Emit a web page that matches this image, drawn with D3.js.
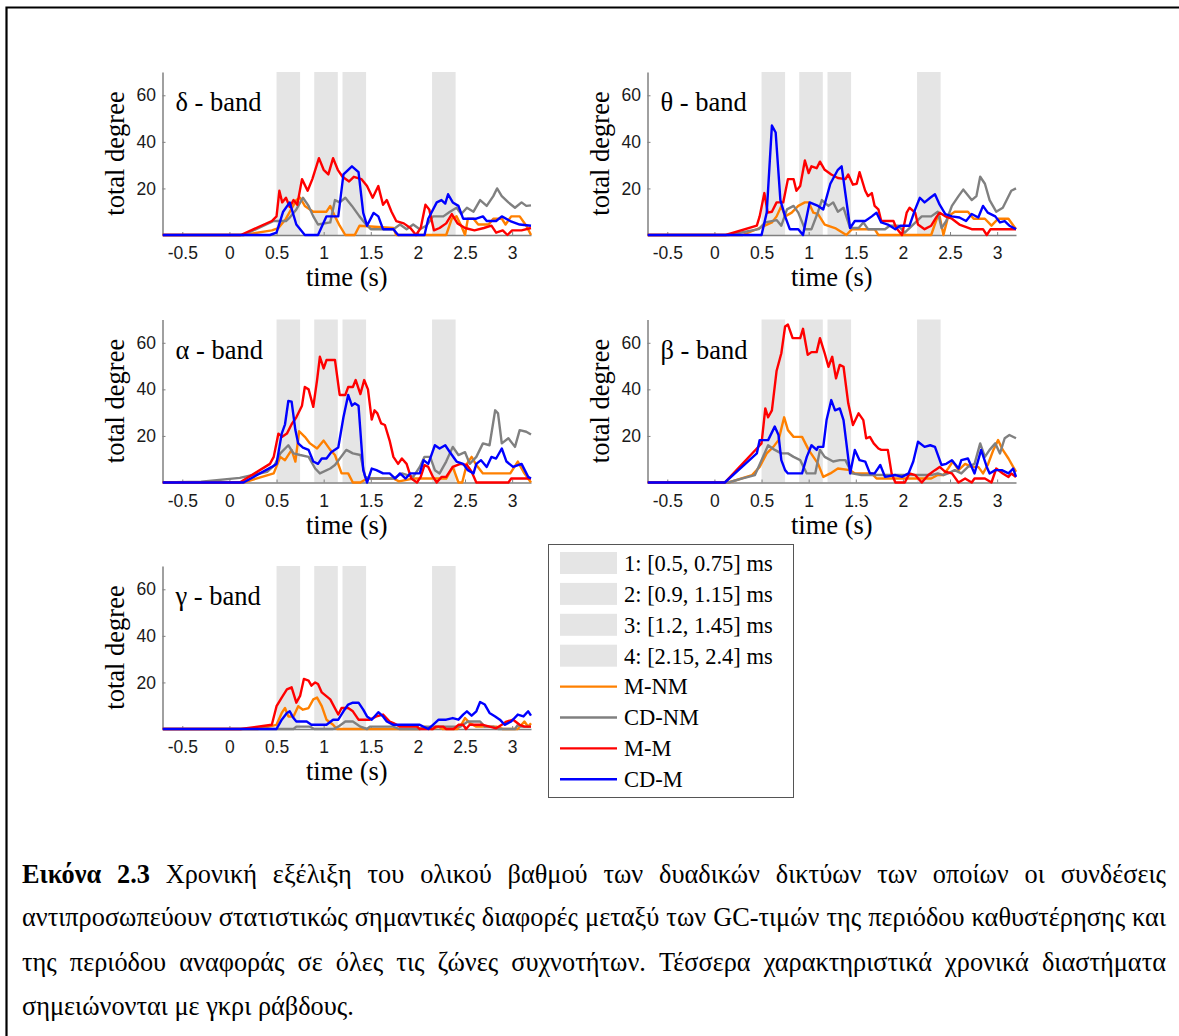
<!DOCTYPE html>
<html>
<head>
<meta charset="utf-8">
<script src="https://cdn.jsdelivr.net/npm/d3@7"></script>
<style>
  body { margin: 0; background: #fff; }
  svg { display: block; }
</style>
</head>
<body>
<svg id="fig" width="1179" height="1036"></svg>
<script>
// ---- labels, categories and ticks ----
const seriesNames = ["M-NM", "CD-NM", "M-M", "CD-M"];
const seriesColors = ["#ff8000", "#808080", "#ff0000", "#0000ff"];
const bandNames = ["δ - band", "θ - band", "α - band", "β - band", "γ - band"];
const intervals = [[0.5, 0.75], [0.9, 1.15], [1.2, 1.45], [2.15, 2.4]];
const intervalLabels = ["1: [0.5, 0.75] ms", "2: [0.9, 1.15] ms", "3: [1.2, 1.45] ms", "4: [2.15, 2.4] ms"];
const xTicks = [-0.5, 0, 0.5, 1, 1.5, 2, 2.5, 3];
const yTicks = [20, 40, 60];
const timeDomain = [-0.71, 3.2];
const degreeDomain = [0, 70];

// ---- total degree over time, [time (s), degree] ----
const deltaMNM = [[-0.71,0],[0.15,0],[0.45,2],[0.52,3],[0.6,7],[0.71,15],[0.75,16],[0.8,12.5],[0.89,10],[1.03,10],[1.07,12.5],[1.12,8],[1.17,4],[1.23,0],[1.33,0],[1.38,4],[1.74,3],[1.77,0],[2.3,0],[2.36,7],[2.41,8],[2.46,4],[2.5,0],[2.53,7],[2.59,7],[2.64,4.5],[2.75,4.5],[2.8,7],[2.89,7],[2.93,4.5],[2.99,8],[3.08,8],[3.15,4],[3.2,0]];
const deltaCDNM = [[-0.71,0],[0.15,0],[0.47,6],[0.6,6],[0.64,7.5],[0.71,11],[0.78,16],[0.84,12.5],[0.89,8],[0.94,4.5],[1.07,5.4],[1.12,15],[1.17,14],[1.23,16],[1.3,12.5],[1.38,8],[1.45,4.5],[1.5,2.5],[1.74,2.5],[1.81,4.5],[1.88,2.5],[1.95,4.5],[2.02,2.5],[2.09,4],[2.16,8],[2.27,8],[2.34,10],[2.41,11.7],[2.46,9],[2.52,11.7],[2.59,10],[2.66,15],[2.73,12.5],[2.8,16.7],[2.84,20],[2.89,16.7],[2.96,14],[3.03,11.7],[3.1,14],[3.15,12.5],[3.2,12.7]];
const deltaMM = [[-0.71,0],[0.12,0],[0.45,6],[0.5,8],[0.53,19],[0.56,14],[0.6,16],[0.64,12],[0.68,15],[0.72,13],[0.77,24],[0.83,19],[0.88,24],[0.95,33],[1.0,28],[1.05,26],[1.1,33],[1.15,28],[1.2,25],[1.27,23],[1.32,25],[1.4,24],[1.46,21],[1.52,16],[1.58,21],[1.63,13],[1.67,15],[1.72,10],[1.77,6],[1.85,5],[1.92,3],[1.98,0],[2.03,3],[2.08,13],[2.12,11],[2.17,2],[2.23,3],[2.3,5],[2.36,9],[2.42,5],[2.5,3],[2.6,2],[2.7,3],[2.78,4],[2.83,1],[2.9,2],[2.95,0],[3.0,2],[3.1,2],[3.2,3]];
const deltaCDM = [[-0.71,0],[0.43,0],[0.5,1],[0.57,10],[0.64,14],[0.71,4.5],[0.8,0],[0.94,0],[1.03,8],[1.155,8],[1.21,26],[1.3,29.5],[1.37,27],[1.42,9.5],[1.46,4],[1.53,9.5],[1.58,8],[1.63,2.5],[1.74,2.5],[1.79,0],[2.07,0],[2.11,7],[2.2,14],[2.25,15],[2.29,13.5],[2.32,17.5],[2.37,14],[2.43,12.5],[2.48,7],[2.62,7],[2.69,8],[2.73,6],[2.83,6],[2.89,8],[2.98,6],[3.08,4.5],[3.2,4]];

const thetaMNM = [[-0.71,0],[0.3,0],[0.48,3],[0.61,5.4],[0.66,8],[0.71,12.5],[0.75,8],[0.82,9.6],[0.89,12.5],[0.96,14],[1.0,14],[1.05,9.6],[1.1,9],[1.17,4.5],[1.28,3],[1.4,0],[1.46,2.5],[1.7,2.5],[1.74,0],[2.3,0],[2.36,7],[2.39,8],[2.43,0],[2.48,8],[2.55,10],[2.69,10],[2.75,7],[2.87,7],[2.94,4],[3.01,7],[3.12,7],[3.2,2.5]];
const thetaCDNM = [[-0.71,0],[0.15,0],[0.47,2.5],[0.54,5.4],[0.66,6.4],[0.71,4],[0.77,11],[0.84,12.5],[0.89,9.6],[0.96,2.5],[1.03,2.5],[1.1,10],[1.14,15],[1.21,12.5],[1.26,14],[1.31,10],[1.37,11.7],[1.44,3],[1.53,3],[1.58,5.4],[1.63,2.5],[1.81,2.5],[1.86,4],[1.95,4],[2.02,1],[2.2,8],[2.3,8],[2.37,10],[2.41,3],[2.46,6],[2.52,12.5],[2.59,16.7],[2.64,19.5],[2.73,15],[2.78,16.7],[2.82,25],[2.87,22],[2.92,15],[2.99,10],[3.06,11.7],[3.15,19],[3.2,20]];
const thetaMM = [[-0.71,0],[0.12,0],[0.45,4],[0.48,8],[0.53,18],[0.565,9.6],[0.61,10],[0.66,14],[0.73,14],[0.78,24],[0.84,24],[0.87,19],[0.91,21],[0.96,32],[1.0,26.6],[1.03,29.5],[1.085,28.7],[1.12,31.5],[1.17,28],[1.24,26],[1.31,24.5],[1.39,24],[1.42,26],[1.47,21.6],[1.51,22],[1.54,27],[1.6,19],[1.63,16.7],[1.67,18],[1.7,12.5],[1.74,11],[1.77,6],[1.9,6],[1.93,3],[1.99,0],[2.04,9.6],[2.07,11.7],[2.13,9.6],[2.16,4.5],[2.23,2.5],[2.3,4],[2.36,8],[2.39,9.6],[2.45,8],[2.52,7],[2.6,4.5],[2.73,2.5],[2.85,2.5],[2.89,0],[2.93,2.5],[3.2,2.5]];
const thetaCDM = [[-0.71,0],[0.5,0],[0.555,9.6],[0.61,47],[0.65,44],[0.7,15],[0.75,8],[0.8,2.5],[0.89,2.5],[0.94,0],[1.01,14],[1.1,12.5],[1.155,11],[1.23,22],[1.31,28],[1.35,29.5],[1.44,3],[1.49,6],[1.6,6],[1.67,8],[1.72,9.6],[1.77,5.4],[1.84,4.5],[1.92,2.5],[1.97,4],[2.07,4],[2.13,11],[2.18,16],[2.23,14],[2.29,16],[2.34,17.5],[2.39,13],[2.45,9],[2.52,8],[2.6,7.5],[2.67,6],[2.73,9],[2.8,7.5],[2.85,12.5],[2.9,9.6],[2.98,8],[3.03,5.4],[3.08,6],[3.13,4],[3.2,2.5]];

const alphaMNM = [[-0.71,0],[0.15,0],[0.47,3.9],[0.54,11],[0.59,9.6],[0.66,14],[0.7,9],[0.74,22],[0.8,19.6],[0.855,16.8],[0.93,14.6],[1.0,18],[1.07,14],[1.12,11.8],[1.19,3.9],[1.26,3.9],[1.31,0],[1.39,0],[1.46,1.7],[1.74,1.7],[1.8,0.5],[1.95,1.7],[2.3,1.7],[2.37,6.7],[2.43,0],[2.47,0],[2.52,8],[2.57,11],[2.62,7.5],[2.69,3.9],[2.98,3.9],[3.06,9],[3.13,3.9],[3.2,0]];
const alphaCDNM = [[-0.71,0],[-0.3,0.3],[0.11,2],[0.4,4.6],[0.48,7.5],[0.54,12.5],[0.625,16],[0.68,12.5],[0.75,11.8],[0.84,11],[0.91,6],[0.96,3.9],[1.07,6],[1.12,7.5],[1.24,14],[1.31,12.5],[1.39,11.8],[1.44,2.4],[1.5,1.7],[1.74,1.7],[1.83,3.9],[1.95,2.4],[2.02,6.7],[2.07,11],[2.13,11],[2.18,5.3],[2.23,3.9],[2.3,9],[2.37,15.3],[2.43,11.8],[2.5,13],[2.55,8],[2.62,11],[2.69,16.8],[2.76,16],[2.82,31],[2.85,29.7],[2.89,16.8],[2.96,19],[3.03,15.3],[3.08,22.5],[3.15,21.8],[3.2,20.6]];
const alphaMM = [[-0.71,0],[0.11,0],[0.43,8],[0.47,11],[0.52,21],[0.56,19.6],[0.61,21],[0.66,25],[0.71,28],[0.77,33],[0.8,41],[0.84,40],[0.89,32.5],[0.93,44],[0.96,54],[1.0,49],[1.03,52.6],[1.12,52.6],[1.17,37.6],[1.23,37.6],[1.26,41],[1.31,41],[1.34,44],[1.39,38],[1.43,44],[1.47,40],[1.51,27],[1.54,31],[1.57,29.7],[1.61,25.4],[1.65,24.7],[1.7,18],[1.74,11],[1.79,8],[1.83,10.3],[1.88,8],[1.93,1.7],[1.99,0],[2.03,2.4],[2.07,7.5],[2.11,6.7],[2.16,2.4],[2.2,0],[2.25,2.4],[2.3,2.4],[2.37,6.7],[2.45,8],[2.52,7.5],[2.57,4.6],[2.62,0],[2.96,0],[2.99,1.7],[3.2,1.7]];
const alphaCDM = [[-0.71,0],[0.15,0],[0.45,6.7],[0.5,8],[0.555,21],[0.59,25],[0.625,35],[0.66,34.7],[0.7,22.5],[0.73,16.8],[0.78,15],[0.84,14],[0.89,9],[0.94,8],[0.98,10.3],[1.03,10.3],[1.08,13],[1.155,15],[1.21,28],[1.26,37.6],[1.3,33],[1.33,34],[1.37,33],[1.42,5.3],[1.46,0],[1.51,6],[1.56,5.3],[1.63,3.9],[1.7,3.9],[1.76,1.7],[1.81,3.9],[1.87,1.7],[1.92,3.9],[2.02,3.9],[2.06,9.6],[2.11,8],[2.18,16],[2.23,14.6],[2.29,16],[2.34,13],[2.41,9],[2.48,8],[2.53,5.3],[2.59,3.9],[2.62,8],[2.67,9.6],[2.73,6.7],[2.78,11],[2.83,10.3],[2.89,14.6],[2.94,9],[3.01,6.7],[3.1,8],[3.17,2.4],[3.2,1.7]];

const betaMNM = [[-0.71,0],[0.15,0],[0.4,3.2],[0.48,6.7],[0.555,12.5],[0.625,15.3],[0.68,18.2],[0.74,28],[0.78,22.5],[0.84,19.6],[0.93,19.6],[1.0,14],[1.05,11],[1.1,8],[1.155,2.4],[1.23,3.9],[1.31,6],[1.44,5.3],[1.49,3.9],[1.67,3.9],[1.72,1.7],[2.3,1.7],[2.37,3.2],[2.43,3.2],[2.48,6],[2.53,9],[2.59,5.3],[2.66,8],[2.73,6.7],[2.8,6.7],[2.85,3.9],[2.9,7.5],[2.96,14],[3.01,18.2],[3.06,14],[3.12,10.3],[3.17,6.7],[3.2,4.6]];
const betaCDNM = [[-0.71,0],[0.15,0],[0.29,1.7],[0.43,3.2],[0.5,9.6],[0.57,16],[0.64,14],[0.71,12.5],[0.78,12.5],[0.84,11],[0.91,9.6],[0.98,3.9],[1.07,3.9],[1.12,14],[1.17,11],[1.26,9],[1.33,9.6],[1.39,9.6],[1.46,3.9],[1.56,3.2],[1.74,3.2],[1.8,3.2],[2.3,3.2],[2.37,3.9],[2.43,3.2],[2.48,3.9],[2.55,5.3],[2.62,3.9],[2.69,6.7],[2.76,8],[2.82,16.8],[2.87,11],[2.92,14],[2.98,16.8],[3.03,12.5],[3.08,19],[3.13,20.4],[3.2,19]];
const betaMM = [[-0.71,0],[0.11,0],[0.45,14.6],[0.5,16.8],[0.54,31.8],[0.57,28],[0.61,31],[0.66,48],[0.71,55.5],[0.75,67],[0.78,67.8],[0.83,62],[0.91,62],[0.94,66],[0.99,54.8],[1.03,56],[1.085,56],[1.12,62],[1.17,55.5],[1.21,49.7],[1.25,54],[1.29,44.7],[1.33,50.5],[1.37,49.7],[1.42,34],[1.47,24.7],[1.53,29.7],[1.58,26.8],[1.61,19],[1.65,19.6],[1.69,16.8],[1.74,14.6],[1.77,14],[1.84,14],[1.88,3.9],[1.92,0],[2.02,0],[2.07,3.9],[2.13,3.2],[2.2,0],[2.27,3.2],[2.34,5.3],[2.39,6.7],[2.45,4.6],[2.52,3.9],[2.59,0],[2.66,1.7],[2.73,0],[2.76,1.7],[2.87,1.7],[2.94,0],[2.99,6],[3.06,3.9],[3.12,2.4],[3.15,3.9],[3.2,2.4]];
const betaCDM = [[-0.71,0],[0.11,0],[0.45,12.5],[0.48,18.2],[0.57,18.2],[0.64,24],[0.68,20.4],[0.71,9.6],[0.75,5.3],[0.78,3.9],[0.93,3.9],[0.98,11],[1.03,16],[1.085,14],[1.1,15.3],[1.155,15.3],[1.19,26.8],[1.24,35.4],[1.28,31],[1.33,31.8],[1.37,26.8],[1.44,3.9],[1.49,14],[1.54,9.6],[1.6,9],[1.65,3.9],[1.7,3.9],[1.76,7.5],[1.81,2.4],[1.92,3.2],[1.99,2.4],[2.06,3.9],[2.11,9],[2.16,17.5],[2.23,15.3],[2.29,16],[2.34,15.3],[2.41,7.5],[2.46,8],[2.52,9.6],[2.59,6],[2.62,9.6],[2.69,10.3],[2.76,3.9],[2.83,14],[2.89,6.7],[2.92,3.9],[2.98,5.3],[3.05,5.3],[3.12,3.9],[3.17,6],[3.2,2.4]];

const gammaMNM = [[-0.71,0],[0.3,0],[0.5,1.8],[0.555,6.9],[0.59,9],[0.625,5.4],[0.68,5.4],[0.73,9.8],[0.78,8.3],[0.84,9],[0.89,12.7],[0.93,13.5],[0.98,9.8],[1.03,4],[1.1,1.8],[1.14,0],[2.02,0],[2.07,1],[2.15,0],[2.22,1],[2.26,0],[2.42,0],[2.46,1.8],[2.5,4.7],[2.55,2.5],[2.62,1],[2.83,1],[2.9,0],[3.06,0],[3.13,3.2],[3.17,1],[3.2,2.5]];
const gammaCDNM = [[-0.71,0],[0.68,0],[0.71,1],[0.855,1],[0.9,0],[1.1,0],[1.155,1],[1.23,3.2],[1.31,3.2],[1.39,1],[1.46,0],[1.49,1],[1.74,1],[1.8,0],[2.02,0],[2.09,1],[2.45,1],[2.48,1.8],[2.53,3.2],[2.66,3.2],[2.71,1],[2.8,1],[2.85,0],[3.03,0],[3.06,1.8],[3.1,1],[3.2,1]];
const gammaMM = [[-0.71,0],[0.12,0],[0.45,1.8],[0.5,9.8],[0.555,13.5],[0.61,17],[0.66,17.9],[0.71,11.3],[0.75,14.2],[0.79,21.5],[0.84,20.8],[0.87,18.6],[0.91,20],[0.94,19.3],[0.98,15.7],[1.07,12.7],[1.155,6.2],[1.19,9],[1.26,9],[1.31,7.6],[1.37,4],[1.49,4],[1.56,5.4],[1.63,6.2],[1.7,3.2],[1.74,2.5],[1.81,1],[1.99,1],[2.02,0],[2.16,0],[2.19,1],[2.27,1],[2.3,0],[2.38,0],[2.43,1.8],[2.48,1.8],[2.51,0],[2.55,1.8],[2.69,1.8],[2.76,1],[2.83,0.3],[2.89,1.8],[2.94,3.2],[3.01,4],[3.08,1.8],[3.13,1],[3.2,1]];
const gammaCDM = [[-0.71,0],[0.5,0],[0.555,4],[0.61,6.9],[0.64,7.6],[0.68,4.7],[0.71,3.2],[0.82,3.2],[0.87,1.8],[1.03,1.8],[1.1,4],[1.155,4],[1.21,7.6],[1.26,10.5],[1.31,11.3],[1.37,11.3],[1.42,8.3],[1.46,5.4],[1.51,4],[1.54,5.4],[1.58,7.2],[1.63,5.4],[1.67,3.2],[1.74,1.8],[2.02,1.8],[2.11,0],[2.16,1.8],[2.22,4],[2.3,4],[2.37,4.7],[2.43,4],[2.48,6.2],[2.52,7.6],[2.57,5.7],[2.62,7.6],[2.66,11.6],[2.71,10.5],[2.76,6.9],[2.82,5.4],[2.87,4],[2.92,1.8],[2.99,3.2],[3.06,6.2],[3.12,5.4],[3.17,7.6],[3.2,5.7]];

const panelSeries = [
  [deltaMNM, deltaCDNM, deltaMM, deltaCDM],
  [thetaMNM, thetaCDNM, thetaMM, thetaCDM],
  [alphaMNM, alphaCDNM, alphaMM, alphaCDM],
  [betaMNM, betaCDNM, betaMM, betaCDM],
  [gammaMNM, gammaCDNM, gammaMM, gammaCDM]
];

// ---- figure text ----
const captionLines = [
  { bold: ["Εικόνα", "2.3"], text: "Χρονική εξέλιξη του ολικού βαθμού των δυαδικών δικτύων των οποίων οι συνδέσεις", justify: true },
  { bold: [], text: "αντιπροσωπεύουν στατιστικώς σημαντικές διαφορές μεταξύ των GC-τιμών της περιόδου καθυστέρησης και", justify: true },
  { bold: [], text: "της περιόδου αναφοράς σε όλες τις ζώνες συχνοτήτων. Τέσσερα χαρακτηριστικά χρονικά διαστήματα", justify: true },
  { bold: [], text: "σημειώνονται με γκρι ράβδους.", justify: false }
];

// ---- layout ----
const serif = "'Liberation Serif', 'Times New Roman', 'DejaVu Serif', serif";
const sans = "'Liberation Sans', Arial, Helvetica, sans-serif";
const panelW = 368.5, panelH = 163;
const panelPos = [[162.5, 72], [647.5, 72], [162.5, 319.5], [647.5, 319.5], [162.5, 566]];
const barFill = "#e5e5e5";
const axisGray = "#808080";
const titleSize = 26.5;

const svg = d3.select("#fig");

// page frame
svg.append("path")
  .attr("d", "M6.5,1036 V7.5 H1179")
  .attr("fill", "none").attr("stroke", "#000").attr("stroke-width", 2.2);

const x = d3.scaleLinear().domain(timeDomain).range([0, panelW]);
const y = d3.scaleLinear().domain(degreeDomain).range([panelH, 0]);
const line = d3.line().x(d => x(d[0])).y(d => y(d[1])).curve(d3.curveLinear);

const defs = svg.append("defs");
defs.append("clipPath").attr("id", "plotClip")
  .append("rect").attr("x", 0).attr("y", -2).attr("width", panelW + 1).attr("height", panelH + 4);

panelPos.forEach(([px, py], i) => {
  const g = svg.append("g").attr("transform", `translate(${px},${py})`);

  // highlighted time windows
  g.selectAll("rect.win").data(intervals).join("rect")
    .attr("class", "win")
    .attr("x", d => x(d[0])).attr("width", d => x(d[1]) - x(d[0]))
    .attr("y", 0).attr("height", panelH)
    .attr("fill", barFill);

  // axes
  const xa = g.append("g").attr("transform", `translate(0,${panelH})`)
    .call(d3.axisBottom(x).tickValues(xTicks).tickSize(-3).tickSizeOuter(0).tickPadding(12));
  const ya = g.append("g")
    .call(d3.axisLeft(y).tickValues(yTicks).tickSize(-3).tickSizeOuter(0).tickPadding(6.5));
  [xa, ya].forEach(a => {
    a.select(".domain").attr("stroke", axisGray).attr("stroke-width", 1.5);
    a.selectAll(".tick line").attr("stroke", axisGray);
    a.selectAll(".tick text").attr("font-family", sans).attr("font-size", 17.5).attr("fill", "#1a1a1a");
  });
  xa.selectAll(".tick text").text(d => (d < 0 ? "-" : "") + Math.abs(d));

  // series
  const lines = g.append("g").attr("clip-path", "url(#plotClip)");
  panelSeries[i].forEach((s, k) => {
    lines.append("path").datum(s)
      .attr("d", line)
      .attr("fill", "none")
      .attr("stroke", seriesColors[k])
      .attr("stroke-width", 2.4)
      .attr("stroke-linejoin", "round");
  });

  // band name
  g.append("text").attr("x", 13).attr("y", 39)
    .attr("font-family", serif).attr("font-size", titleSize).attr("fill", "#000")
    .text(bandNames[i]);

  // axis titles
  g.append("text")
    .attr("transform", `translate(-48,${panelH / 2}) rotate(-90)`)
    .attr("text-anchor", "middle").attr("dominant-baseline", "central")
    .attr("font-family", serif).attr("font-size", titleSize).attr("fill", "#000")
    .text("total degree");
  g.append("text")
    .attr("x", panelW / 2).attr("y", panelH + 51)
    .attr("text-anchor", "middle")
    .attr("font-family", serif).attr("font-size", titleSize).attr("fill", "#000")
    .text("time (s)");
});

// ---- legend ----
const lg = svg.append("g");
lg.append("rect").attr("x", 548.5).attr("y", 544.5).attr("width", 245).attr("height", 253)
  .attr("fill", "#fff").attr("stroke", "#555").attr("stroke-width", 1);
const rowY = i => 563 + i * 30.9;
intervalLabels.forEach((lab, i) => {
  lg.append("rect").attr("x", 560).attr("y", rowY(i) - 11).attr("width", 57).attr("height", 22)
    .attr("fill", barFill);
  lg.append("text").attr("x", 624).attr("y", rowY(i)).attr("dy", "0.35em")
    .attr("font-family", serif).attr("font-size", 22.5).attr("fill", "#000").text(lab);
});
seriesNames.forEach((name, k) => {
  const yy = rowY(k + 4);
  lg.append("line").attr("x1", 560).attr("x2", 617).attr("y1", yy).attr("y2", yy)
    .attr("stroke", seriesColors[k]).attr("stroke-width", 2.4);
  lg.append("text").attr("x", 624).attr("y", yy).attr("dy", "0.35em")
    .attr("font-family", serif).attr("font-size", 22.5).attr("fill", "#000").text(name);
});

// ---- caption, justified word by word ----
const capX0 = 22, capX1 = 1166;
const capBase = [883, 926, 971, 1015];
const cap = svg.append("g").attr("font-family", serif).attr("fill", "#000");

// size the type so the densest line just fills the column
const probe = cap.append("text").attr("font-size", 20).text(captionLines[1].text);
const probeW = probe.node().getComputedTextLength();
probe.remove();
const capSize = 20 * (capX1 - capX0 - 4) / probeW;

captionLines.forEach((ln, li) => {
  const words = ln.bold.map(w => ({ w, b: true })).concat(ln.text.split(" ").map(w => ({ w, b: false })));
  const nodes = words.map(o => cap.append("text")
    .attr("y", capBase[li]).attr("font-size", capSize)
    .attr("font-weight", o.b ? "bold" : "normal").text(o.w));
  const widths = nodes.map(n => n.node().getComputedTextLength());
  const total = d3.sum(widths);
  const gap = ln.justify ? (capX1 - capX0 - total) / (words.length - 1) : capSize * 0.25;
  let cx = capX0;
  nodes.forEach((n, j) => { n.attr("x", cx); cx += widths[j] + gap; });
});
</script>
</body>
</html>
